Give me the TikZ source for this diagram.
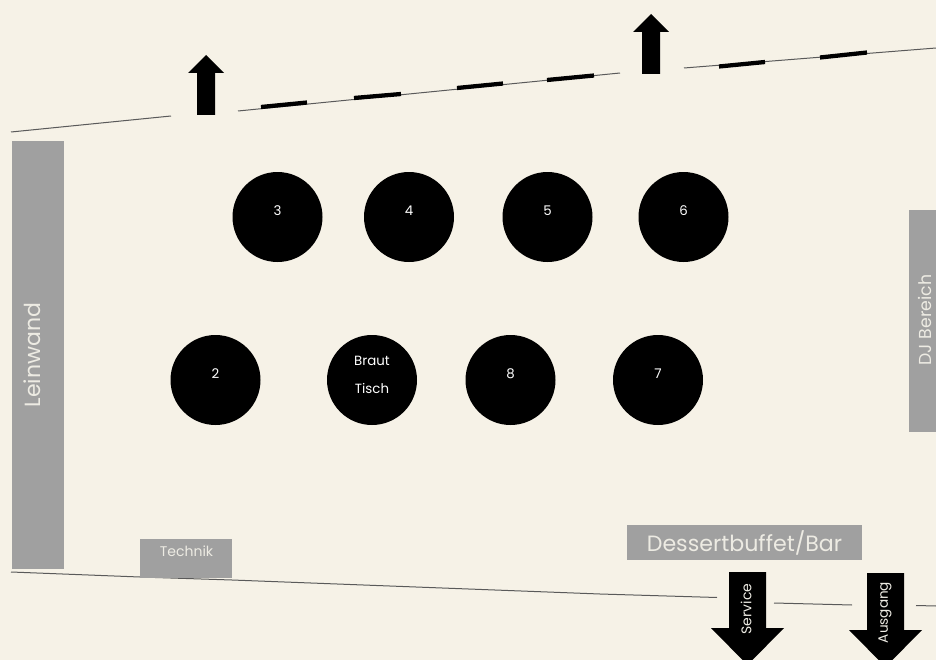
\documentclass[tikz,border=0pt]{standalone}
\usepackage{fontspec}
\setmainfont{Poppins}
\definecolor{bgc}{HTML}{F6F2E7}
\definecolor{boxc}{HTML}{A0A0A0}
\definecolor{txtc}{HTML}{EDEBE3}
\definecolor{wallc}{HTML}{5A5A5A}
\tikzset{
  wall/.style={draw=wallc,line width=0.75pt},
  seg/.style={draw=black,line width=3.2pt},
  tbl/.style={circle,fill=black,minimum size=67.5pt,inner sep=0pt},
  tlabel/.style={text=white,font=\fontsize{10}{11}\selectfont,inner sep=0pt},
  graybox/.style={fill=boxc,draw=none},
  boxlabel/.style={text=txtc,inner sep=0pt},
  arrowshape/.style={fill=black,draw=none}
}
\begin{document}
\begin{tikzpicture}[x=0.75pt,y=-0.75pt]
\useasboundingbox (0,0) rectangle (936,660);
\fill[bgc] (0,0) rectangle (936,660);
% top wall
\draw[wall] (11,132) -- (171,116);
\draw[wall] (238,111) -- (620,73);
\draw[wall] (684,68) -- (936,48);
\foreach \a/\b/\c/\d in {261/107/307/102.5,354/98/401/94,457/88/503/83.5,547/80/594/75.5,719/66.5/765/62,820/57.5/867/52.5}
  \draw[seg] (\a,\b) -- (\c,\d);
% bottom wall
\draw[wall] (11,572) -- (140,577) -- (232,580) -- (600,594) -- (717,597.5);
\draw[wall] (774,603) -- (852,605);
\draw[wall] (916,605.5) -- (936,606);
% gray boxes
\node[graybox,minimum width=39pt,minimum height=321pt,inner sep=0pt] (lein) at (38,355) {};
\node[boxlabel,rotate=90,font=\fontsize{16.5}{18}\selectfont] at (32,355) {Leinwand};
\fill[boxc] (909,210) rectangle (936,432);
\node[boxlabel,rotate=90,font=\fontsize{13}{14}\selectfont] (dj) at (925,320) {DJ Bereich};
\node[graybox,minimum width=69pt,minimum height=29.25pt,inner sep=0pt] (tech) at (186,558.5) {};
\node[boxlabel,font=\fontsize{10.5}{12}\selectfont] at (186.5,551) {Technik};
\node[graybox,minimum width=176.25pt,minimum height=26.25pt,inner sep=0pt] (dess) at (744.5,542.5) {};
\node[boxlabel,font=\fontsize{16.6}{18}\selectfont] at (744.5,543) {Dessertbuffet/Bar};
% arrows
\fill[arrowshape] (206,55) -- (224,73) -- (215,73) -- (215,115) -- (197,115) -- (197,73) -- (188,73) -- cycle;
\fill[arrowshape] (651,14) -- (669,32) -- (660,32) -- (660,74) -- (642,74) -- (642,32) -- (633,32) -- cycle;
\fill[arrowshape] (729,572) -- (766,572) -- (766,628) -- (784,628) -- (747.5,665) -- (711,628) -- (729,628) -- cycle;
\fill[arrowshape] (867,573) -- (904,573) -- (904,630) -- (922,630) -- (885.5,667) -- (849,630) -- (867,630) -- cycle;
\node[boxlabel,rotate=90,font=\fontsize{10.5}{12}\selectfont] at (746,609) {Service};
\node[boxlabel,rotate=90,font=\fontsize{10.2}{12}\selectfont] at (885,612.5) {Ausgang};
% tables
\node[tbl] (t3) at (277.5,217) {};
\node[tbl] (t4) at (409,217) {};
\node[tbl] (t5) at (547.5,217) {};
\node[tbl] (t6) at (683.5,217) {};
\node[tbl] (t2) at (215.5,380) {};
\node[tbl] (tb) at (372,380) {};
\node[tbl] (t8) at (510.5,380) {};
\node[tbl] (t7) at (658,380) {};
\foreach \n/\t in {t3/3,t4/4,t5/5,t6/6,t2/2,t8/8,t7/7}
  \node[tlabel,yshift=4.5pt] at (\n) {\t};
\node[tlabel,yshift=14.5pt] at (tb) {Braut};
\node[tlabel,yshift=-6pt] at (tb) {Tisch};
\end{tikzpicture}
\end{document}
